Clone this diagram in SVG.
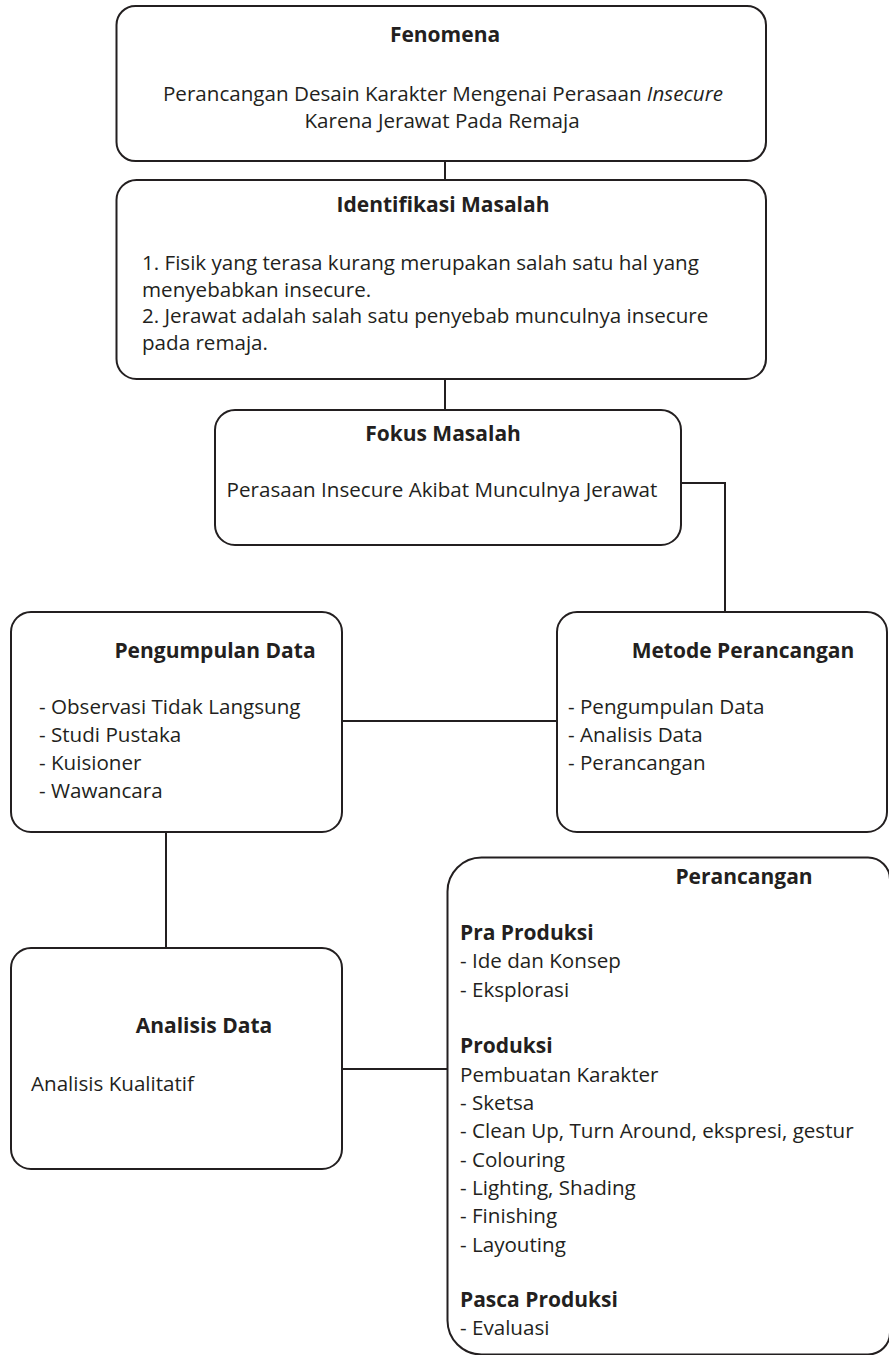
<svg xmlns="http://www.w3.org/2000/svg" width="889" height="1355" viewBox="0 0 889 1355">
<style>
.box{fill:#fff;stroke:#231f20;stroke-width:2}
.ln{fill:none;stroke:#231f20;stroke-width:2}
text{font-family:"Open Sans","Noto Sans","Liberation Sans",sans-serif;font-size:20.6px;fill:#231f20}
.t{font-weight:bold;text-anchor:middle;font-size:21px}
.b{font-weight:bold;font-size:21px}
.c{text-anchor:middle}
</style>
<rect width="889" height="1355" fill="#fff"/>
<g id="connectors">
<line class="ln" x1="445" y1="161" x2="445" y2="180"/>
<line class="ln" x1="445" y1="379" x2="445" y2="410"/>
<polyline class="ln" points="681,483 725,483 725,612"/>
<line class="ln" x1="342" y1="721" x2="557" y2="721"/>
<line class="ln" x1="166" y1="832" x2="166" y2="948"/>
<line class="ln" x1="342" y1="1069" x2="448" y2="1069"/>
</g>
<g id="fenomena">
<rect class="box" x="116.5" y="6" width="649.5" height="155" rx="19"/>
<text class="t" x="445" y="42">Fenomena</text>
<text class="c" x="443" y="101">Perancangan Desain Karakter Mengenai Perasaan <tspan font-style="italic">Insecure</tspan></text>
<text class="c" x="442" y="128">Karena Jerawat Pada Remaja</text>
</g>
<g id="identifikasi">
<rect class="box" x="116.5" y="180" width="649.5" height="199" rx="20"/>
<text class="t" x="443" y="212">Identifikasi Masalah</text>
<text x="142" y="270">1. Fisik yang terasa kurang merupakan salah satu hal yang</text>
<text x="142" y="297">menyebabkan insecure.</text>
<text x="142" y="323">2. Jerawat adalah salah satu penyebab munculnya insecure</text>
<text x="142" y="350">pada remaja.</text>
</g>
<g id="fokus">
<rect class="box" x="215" y="410" width="466" height="135" rx="20"/>
<text class="t" x="443" y="441">Fokus Masalah</text>
<text class="c" x="442" y="497">Perasaan Insecure Akibat Munculnya Jerawat</text>
</g>
<g id="pengumpulan">
<rect class="box" x="11" y="612" width="331" height="220" rx="20"/>
<text class="t" x="215" y="658">Pengumpulan Data</text>
<text x="39" y="714">- Observasi Tidak Langsung</text>
<text x="39" y="742">- Studi Pustaka</text>
<text x="39" y="770">- Kuisioner</text>
<text x="39" y="798">- Wawancara</text>
</g>
<g id="metode">
<rect class="box" x="557" y="612" width="330" height="220" rx="20"/>
<text class="t" x="743" y="658">Metode Perancangan</text>
<text x="568" y="714">- Pengumpulan Data</text>
<text x="568" y="742">- Analisis Data</text>
<text x="568" y="770">- Perancangan</text>
</g>
<g id="analisis">
<rect class="box" x="11" y="948" width="331" height="221" rx="20"/>
<text class="t" x="204" y="1033">Analisis Data</text>
<text x="31" y="1091">Analisis Kualitatif</text>
</g>
<g id="perancangan">
<path class="box" d="M481.5 857.5 H868 A22 22 0 0 1 890 879.5 V1332.5 A22 22 0 0 1 868 1354.5 H481.5 A34 34 0 0 1 447.5 1320.5 V891.5 A34 34 0 0 1 481.5 857.5 Z"/>
<text class="t" x="744" y="884">Perancangan</text>
<text class="b" x="460" y="940">Pra Produksi</text>
<text x="460" y="968">- Ide dan Konsep</text>
<text x="460" y="997">- Eksplorasi</text>
<text class="b" x="460" y="1053">Produksi</text>
<text x="460" y="1082">Pembuatan Karakter</text>
<text x="460" y="1110">- Sketsa</text>
<text x="460" y="1138">- Clean Up, Turn Around, ekspresi, gestur</text>
<text x="460" y="1167">- Colouring</text>
<text x="460" y="1195">- Lighting, Shading</text>
<text x="460" y="1223">- Finishing</text>
<text x="460" y="1252">- Layouting</text>
<text class="b" x="460" y="1307">Pasca Produksi</text>
<text x="460" y="1335">- Evaluasi</text>
</g>
</svg>
